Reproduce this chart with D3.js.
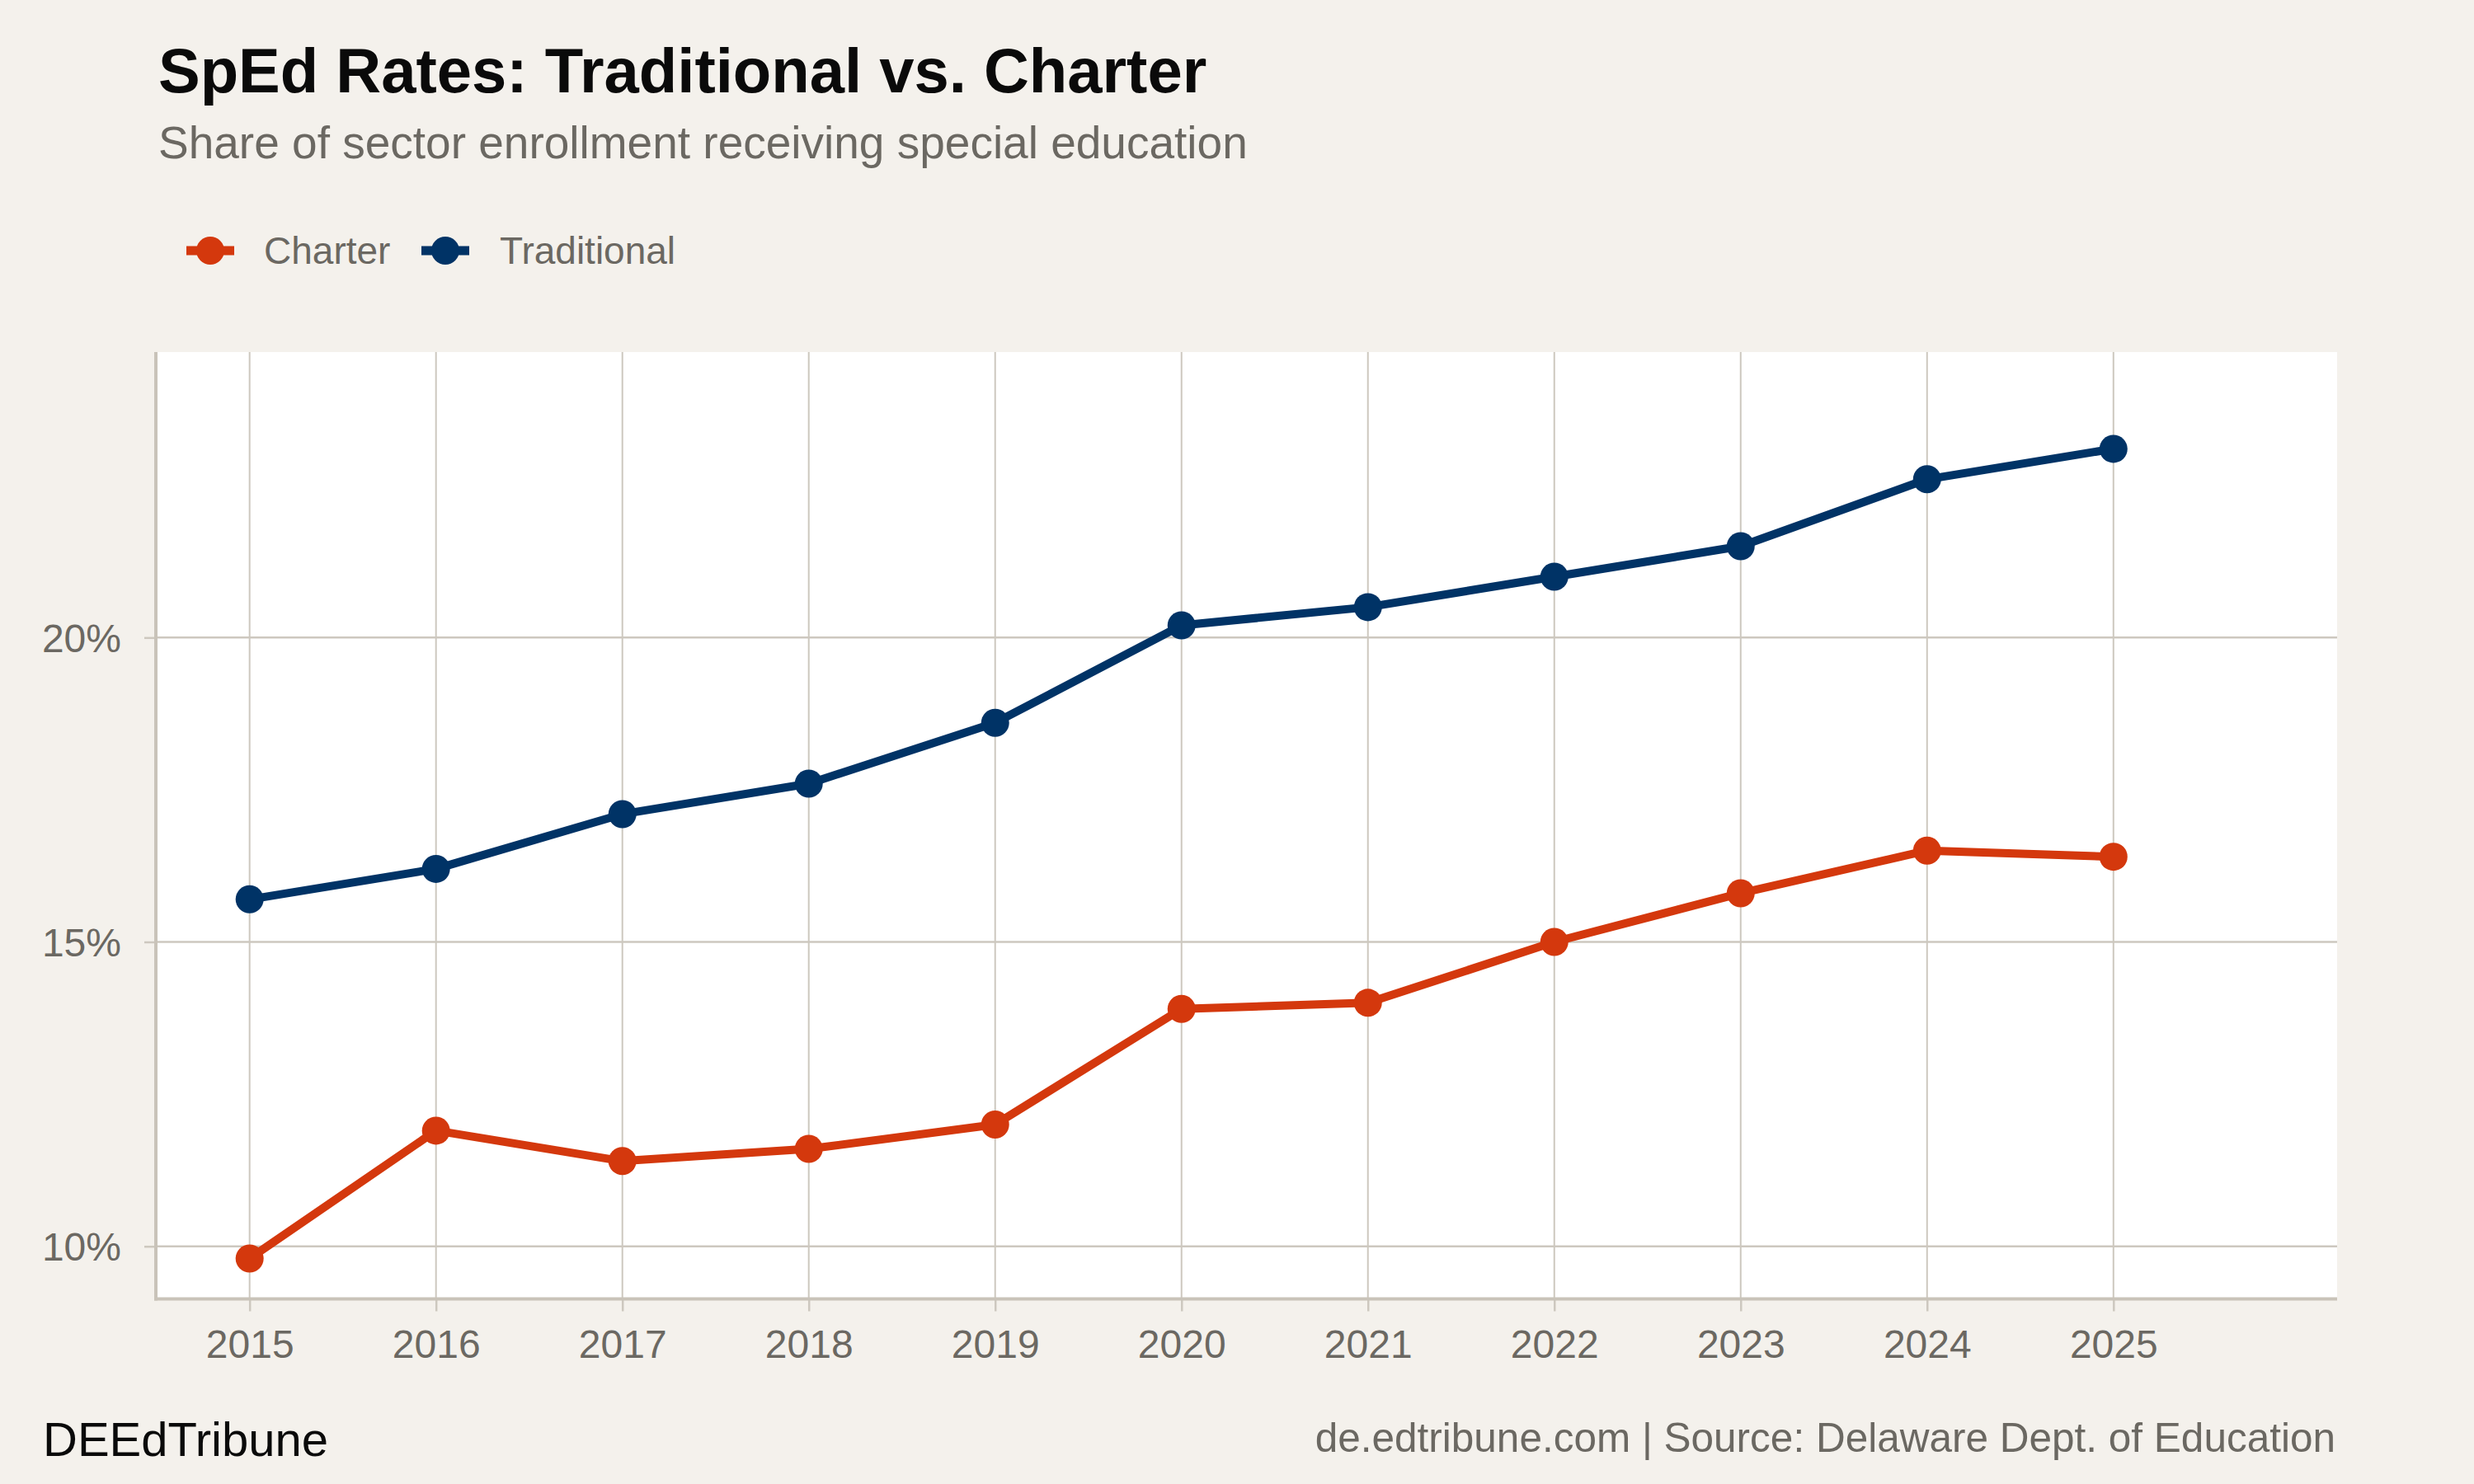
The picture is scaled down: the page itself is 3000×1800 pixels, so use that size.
<!DOCTYPE html>
<html>
<head>
<meta charset="utf-8">
<script src="https://cdn.jsdelivr.net/npm/d3@7/dist/d3.min.js"></script>
<style>
  html, body { margin: 0; padding: 0; background: #f4f1ec; }
  svg { display: block; }
  text { font-family: "Liberation Sans", Arial, Helvetica, sans-serif; }
</style>
</head>
<body>
<svg id="chart" width="3000" height="1800"></svg>
<script>
const years = [2015, 2016, 2017, 2018, 2019, 2020, 2021, 2022, 2023, 2024, 2025];
const traditional = [15.7, 16.2, 17.1, 17.6, 18.6, 20.2, 20.5, 21.0, 21.5, 22.6, 23.1];
const charter = [9.8, 11.9, 11.4, 11.6, 12.0, 13.9, 14.0, 15.0, 15.8, 16.5, 16.4];
const yTicks = [10, 15, 20];
const seriesNames = ["Charter", "Traditional"];
const seriesColors = ["#d4380d", "#003366"];

const title = "SpEd Rates: Traditional vs. Charter";
const subtitle = "Share of sector enrollment receiving special education";
const captionLeft = "DEEdTribune";
const captionRight = "de.edtribune.com | Source: Delaware Dept. of Education";

const W = 3000, H = 1800;
const panel = { left: 189, right: 2834, top: 427, bottom: 1575.5 };
const gridColor = "#cdc8bf";
const axisColor = "#c9c3b9";
const textGray = "#6b6862";

const svg = d3.select("#chart");
svg.append("rect").attr("width", W).attr("height", H).attr("fill", "#f4f1ec");

const x = d3.scaleLinear().domain([2014.497, 2026.2]).range([panel.left, panel.right]);
const y = d3.scaleLinear().domain([9.136, 24.69]).range([panel.bottom, panel.top]);

// panel background
svg.append("rect")
  .attr("x", panel.left).attr("y", panel.top)
  .attr("width", panel.right - panel.left).attr("height", panel.bottom - panel.top)
  .attr("fill", "#ffffff");

// grid lines
const grid = svg.append("g");
grid.selectAll("line.v").data(years).join("line")
  .attr("x1", d => x(d)).attr("x2", d => x(d))
  .attr("y1", panel.top).attr("y2", panel.bottom)
  .attr("stroke", gridColor).attr("stroke-width", 2);
grid.selectAll("line.h").data(yTicks).join("line")
  .attr("x1", panel.left).attr("x2", panel.right)
  .attr("y1", d => y(d)).attr("y2", d => y(d))
  .attr("stroke", gridColor).attr("stroke-width", 2.5);

// axes
const xAxis = d3.axisBottom(x).tickValues(years).tickFormat(d3.format("d")).tickSize(15).tickPadding(22);
const yAxis = d3.axisLeft(y).tickValues(yTicks).tickFormat(d => d + "%").tickSize(14).tickPadding(28);

const gx = svg.append("g").attr("transform", `translate(0,${panel.bottom})`).call(xAxis);
const gy = svg.append("g").attr("transform", `translate(${panel.left},0)`).call(yAxis);
[gx, gy].forEach(g => {
  g.select(".domain").remove();
  g.selectAll(".tick line").attr("stroke", gridColor).attr("stroke-width", 2.5);
  g.selectAll(".tick text")
    .attr("fill", textGray)
    .attr("font-size", 48)
    .attr("font-family", '"Liberation Sans", Arial, sans-serif');
});
gx.selectAll(".tick text").attr("dy", "0.71em");
gy.selectAll(".tick text").attr("dy", "0.35em");

// axis lines (left and bottom)
svg.append("line")
  .attr("x1", panel.left).attr("x2", panel.left)
  .attr("y1", panel.top).attr("y2", panel.bottom + 2)
  .attr("stroke", axisColor).attr("stroke-width", 4);
svg.append("line")
  .attr("x1", panel.left - 2).attr("x2", panel.right)
  .attr("y1", panel.bottom).attr("y2", panel.bottom)
  .attr("stroke", axisColor).attr("stroke-width", 4);

// series
const data = [
  { name: seriesNames[0], color: seriesColors[0], values: charter },
  { name: seriesNames[1], color: seriesColors[1], values: traditional }
];
const line = d3.line().x((d, i) => x(years[i])).y(d => y(d));

data.forEach(s => {
  const g = svg.append("g");
  g.append("path").datum(s.values)
    .attr("d", line)
    .attr("fill", "none")
    .attr("stroke", s.color)
    .attr("stroke-width", 10)
    .attr("stroke-linejoin", "round")
    .attr("stroke-linecap", "round");
  g.selectAll("circle").data(s.values).join("circle")
    .attr("cx", (d, i) => x(years[i]))
    .attr("cy", d => y(d))
    .attr("r", 17)
    .attr("fill", s.color);
});

// titles
svg.append("text").attr("x", 192).attr("y", 112)
  .attr("font-size", 76).attr("font-weight", "bold").attr("fill", "#0a0a0a")
  .text(title);
svg.append("text").attr("x", 192).attr("y", 192)
  .attr("font-size", 55).attr("fill", textGray)
  .text(subtitle);

// legend
const legendY = 304;
const legendItems = [
  { name: seriesNames[0], color: seriesColors[0], cx: 255, tx: 320 },
  { name: seriesNames[1], color: seriesColors[1], cx: 540, tx: 606 }
];
const lg = svg.append("g");
legendItems.forEach(it => {
  lg.append("line")
    .attr("x1", it.cx - 29).attr("x2", it.cx + 29)
    .attr("y1", legendY).attr("y2", legendY)
    .attr("stroke", it.color).attr("stroke-width", 11);
  lg.append("circle").attr("cx", it.cx).attr("cy", legendY).attr("r", 17).attr("fill", it.color);
  lg.append("text").attr("x", it.tx).attr("y", legendY).attr("dy", "0.35em")
    .attr("font-size", 46).attr("fill", textGray).text(it.name);
});

// captions
svg.append("text").attr("x", 52).attr("y", 1766)
  .attr("font-size", 58).attr("fill", "#0a0a0a").text(captionLeft);
svg.append("text").attr("x", 2832).attr("y", 1761)
  .attr("text-anchor", "end")
  .attr("font-size", 49.5).attr("fill", textGray).text(captionRight);
</script>
</body>
</html>
